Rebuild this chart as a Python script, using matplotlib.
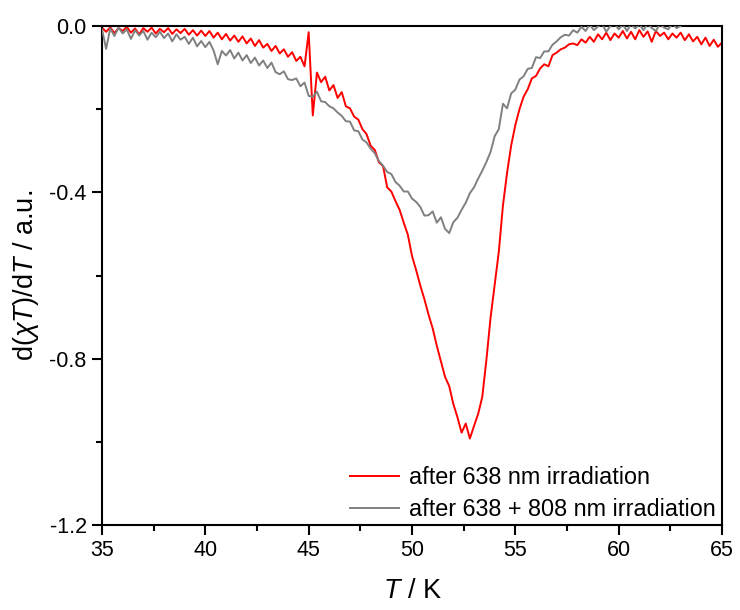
import numpy as np
import matplotlib
matplotlib.use("Agg")
import matplotlib.pyplot as plt
from matplotlib.ticker import MultipleLocator

plt.rcParams['font.family'] = ['Liberation Sans', 'DejaVu Sans']
plt.rcParams['mathtext.fontset'] = 'custom'
plt.rcParams['mathtext.it'] = 'Liberation Sans:italic'
plt.rcParams['mathtext.rm'] = 'Liberation Sans'
plt.rcParams['axes.unicode_minus'] = False

# temperature grid (K), 0.2 K steps
temp_red = np.round(np.arange(35.0, 65.0001, 0.2), 1)
temp_gray = np.round(np.arange(35.0, 63.0001, 0.2), 1)

red_after_638 = [
    -0.004, -0.014, -0.003, -0.017, -0.005,   # 35
    -0.012, -0.002, -0.016, -0.006, -0.020,   # 36
    -0.005, -0.014, -0.004, -0.018, -0.007,   # 37
    -0.015, -0.005, -0.019, -0.008, -0.017,   # 38
    -0.007, -0.021, -0.010, -0.023, -0.011,   # 39
    -0.024, -0.012, -0.028, -0.016, -0.032,   # 40
    -0.019, -0.035, -0.023, -0.038, -0.025,   # 41
    -0.042, -0.030, -0.048, -0.034, -0.052,   # 42
    -0.043, -0.060, -0.048, -0.066, -0.056,   # 43
    -0.074, -0.063, -0.084, -0.074, -0.097,   # 44
    -0.015, -0.215, -0.112, -0.135, -0.122,   # 45
    -0.155, -0.142, -0.173, -0.159, -0.193,   # 46
    -0.198, -0.218, -0.225, -0.248, -0.260,   # 47
    -0.288, -0.298, -0.328, -0.337, -0.388,   # 48
    -0.398, -0.421, -0.442, -0.473, -0.502,   # 49
    -0.553, -0.587, -0.624, -0.657, -0.694,   # 50
    -0.727, -0.769, -0.806, -0.844, -0.866,   # 51
    -0.909, -0.941, -0.978, -0.956, -0.992,   # 52
    -0.962, -0.933, -0.892, -0.803, -0.702,   # 53
    -0.622, -0.543, -0.432, -0.353, -0.287,   # 54
    -0.238, -0.200, -0.170, -0.152, -0.126,   # 55
    -0.120, -0.102, -0.092, -0.097, -0.070,   # 56
    -0.064, -0.056, -0.052, -0.044, -0.042,   # 57
    -0.046, -0.032, -0.040, -0.026, -0.038,   # 58
    -0.020, -0.032, -0.016, -0.034, -0.018,   # 59
    -0.028, -0.012, -0.030, -0.014, -0.032,   # 60
    -0.010, -0.026, -0.013, -0.038, -0.012,   # 61
    -0.024, -0.016, -0.032, -0.018, -0.028,   # 62
    -0.016, -0.034, -0.020, -0.037, -0.026,   # 63
    -0.044, -0.028, -0.048, -0.033, -0.050,   # 64
    -0.040,                                   # 65
]

gray_after_638_808 = [
    -0.008, -0.055, -0.006, -0.024, -0.004,   # 35
    -0.018, -0.008, -0.031, -0.010, -0.023,   # 36
    -0.012, -0.033, -0.016, -0.027, -0.014,   # 37
    -0.029, -0.018, -0.037, -0.020, -0.033,   # 38
    -0.026, -0.043, -0.028, -0.049, -0.036,   # 39
    -0.051, -0.038, -0.059, -0.092, -0.060,   # 40
    -0.071, -0.058, -0.078, -0.064, -0.083,   # 41
    -0.070, -0.089, -0.076, -0.095, -0.083,   # 42
    -0.101, -0.088, -0.111, -0.116, -0.109,   # 43
    -0.128, -0.130, -0.126, -0.145, -0.136,   # 44
    -0.168, -0.170, -0.158, -0.181, -0.183,   # 45
    -0.193, -0.198, -0.208, -0.216, -0.229,   # 46
    -0.230, -0.251, -0.253, -0.273, -0.280,   # 47
    -0.295, -0.306, -0.325, -0.336, -0.351,   # 48
    -0.356, -0.375, -0.384, -0.398, -0.398,   # 49
    -0.415, -0.423, -0.435, -0.456, -0.455,   # 50
    -0.446, -0.473, -0.460, -0.488, -0.498,   # 51
    -0.472, -0.461, -0.442, -0.425, -0.402,   # 52
    -0.388, -0.367, -0.348, -0.327, -0.303,   # 53
    -0.265, -0.248, -0.187, -0.198, -0.162,   # 54
    -0.153, -0.129, -0.121, -0.103, -0.101,   # 55
    -0.075, -0.077, -0.061, -0.061, -0.045,   # 56
    -0.037, -0.027, -0.021, -0.023, -0.010,   # 57
    -0.016, -0.002, -0.012, 0.004, -0.010,    # 58
    -0.001, 0.005, -0.014, 0.000, 0.006,      # 59
    -0.008, 0.004, -0.012, 0.005, -0.006,     # 60
    0.004, -0.010, 0.006, -0.005, -0.012,     # 61
    0.005, -0.004, -0.008, 0.006, -0.005,     # 62
    0.000,                                    # 63
]

labels = ["after 638 nm irradiation", "after 638 + 808 nm irradiation"]

fig = plt.figure(figsize=(7.4, 6.1), dpi=100)
ax = fig.add_axes([102/740, 1-525/610, 620/740, 499/610])

ax.plot(temp_red, red_after_638, color='#ff0000', lw=1.4, label=labels[0], zorder=2)
ax.plot(temp_gray, gray_after_638_808, color='#808080', lw=1.4, label=labels[1], zorder=3)

ax.set_xlim(35, 65)
ax.set_ylim(-1.2, 0.0)
ax.xaxis.set_major_locator(MultipleLocator(5))
ax.xaxis.set_minor_locator(MultipleLocator(2.5))
ax.yaxis.set_major_locator(MultipleLocator(0.4))
ax.yaxis.set_minor_locator(MultipleLocator(0.2))
ax.yaxis.set_major_formatter(matplotlib.ticker.FormatStrFormatter('%.1f'))

for s in ax.spines.values():
    s.set_linewidth(1.5)
ax.tick_params(which='major', direction='out', length=7, width=1.5, labelsize=15.5,
               top=False, right=False, pad=4)
ax.tick_params(which='minor', direction='out', length=4.5, width=1.5, top=False, right=False)

ax.set_xlabel(r'$T$ / K', fontsize=19.5, labelpad=12)
ax.set_ylabel(r'd($\chi T$)/d$T$ / a.u.', fontsize=19.5, labelpad=6)

leg = ax.legend(loc='lower right', frameon=False, fontsize=16.8,
                handlelength=2.1, handletextpad=0.4, labelspacing=0.38,
                borderaxespad=0.1, bbox_to_anchor=(1.008, -0.016))

fig.savefig('out.png', dpi=100)
